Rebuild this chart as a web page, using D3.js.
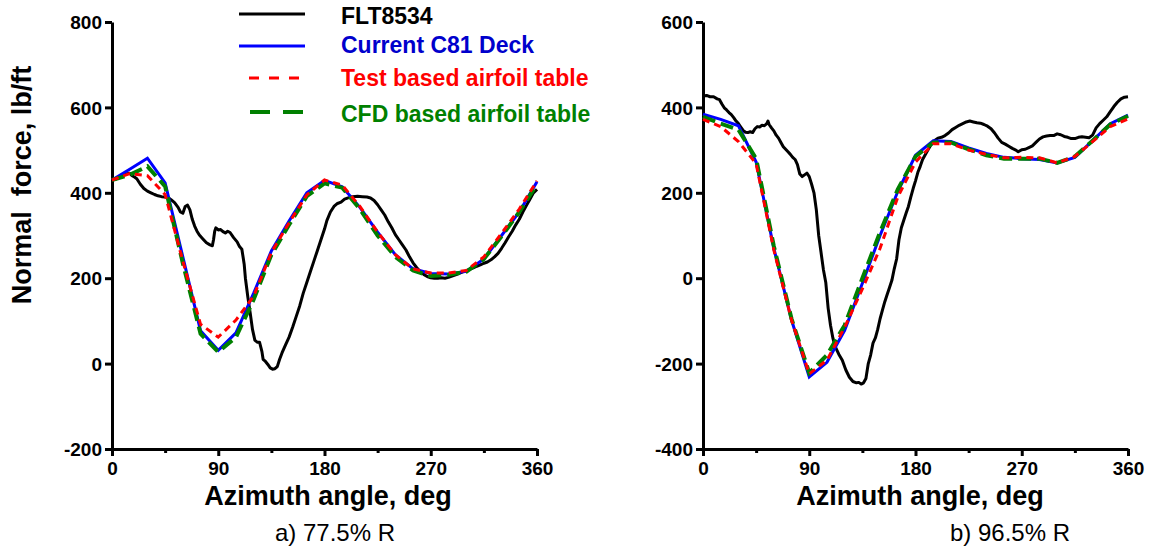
<!DOCTYPE html>
<html>
<head>
<meta charset="utf-8">
<script src="https://cdn.jsdelivr.net/npm/d3@7"></script>
<style>
  body { margin: 0; background: #fff; }
  text { font-family: "Liberation Sans", Arial, sans-serif; }
</style>
</head>
<body>
<svg id="c81-normal-force" width="1152" height="547"></svg>
<script>
// Azimuth stations of the C81 predictions (deg)
const predAz = [0,15,30,45,60,75,90,105,120,135,150,165,180,195,210,225,240,255,270,285,300,315,330,345,360];

// a) 77.5% R
const c81A  = [430,455,481,423,250,77,31,72,165,264,334,400,429,414,366,308,255,222,211,210,216,245,300,355,426];
const testA = [430,445,440,396,240,92,62,102,158,260,330,395,430,418,368,308,255,222,212,212,218,250,305,362,428];
const cfdA  = [430,442,462,415,235,70,27,62,150,255,325,392,422,412,362,300,250,218,205,208,215,245,298,355,420];
const fltA = [[0,430],[3,432],[6,436],[9,440],[12,444],[15,446],[17,440],[19,437],[21,433],[24,420],[27,410],[30,404],
  [33,400],[36,396],[39,393],[42,391],[45,390],[48,388],[50,384],[53,377],[56,366],[58,355],[60,352],[62,368],[64,371],
  [66,360],[68,338],[70,322],[72,310],[74,301],[77,292],[80,283],[83,278],[85,276],[86,290],[87,310],[88,318],[90,313],
  [92,314],[94,309],[96,306],[98,310],[100,307],[103,295],[106,285],[108,274],[110,268],[111,250],[112,232],[113,200],
  [115,157],[117,120],[119,80],[121,55],[123,50],[125,50],[127,28],[128,10],[130,5],[132,-2],[134,-10],[136,-13],
  [138,-12],[140,-7],[142,10],[144,25],[147,44],[150,62],[153,85],[156,110],[159,135],[162,165],[165,190],[168,215],
  [171,240],[174,265],[177,290],[180,315],[182,335],[185,355],[188,368],[191,375],[194,378],[197,385],[200,388],
  [204,391],[208,392],[212,391],[216,390],[219,388],[222,382],[225,372],[228,360],[231,348],[234,332],[237,318],
  [240,302],[243,290],[246,278],[249,266],[252,250],[255,236],[258,225],[261,215],[264,209],[267,204],[270,201],
  [273,200],[276,200],[279,201],[282,200],[285,202],[288,205],[291,208],[294,211],[297,215],[300,217],[303,221],
  [306,224],[309,228],[312,231],[315,235],[318,238],[321,243],[324,250],[327,258],[330,270],[333,283],[336,297],
  [339,310],[342,325],[345,338],[348,355],[351,370],[354,385],[357,400],[360,408]];

// b) 96.5% R
const c81B  = [384,372,357,272,70,-98,-231,-197,-122,-12,100,203,288,322,320,305,292,283,280,278,270,283,322,362,382];
const testB = [372,355,320,268,66,-98,-224,-192,-115,-25,70,190,272,315,315,300,290,282,283,282,270,285,320,355,373];
const cfdB  = [378,362,348,280,75,-95,-222,-180,-110,0,108,208,285,318,318,302,288,280,280,280,270,285,322,360,380];
const fltB = [[0,427],[3,428],[6,425],[9,425],[12,420],[14,418],[16,408],[18,399],[20,394],[22,388],[24,383],[26,376],
  [28,368],[30,362],[32,354],[34,346],[36,342],[38,341],[40,343],[42,341],[44,350],[46,355],[48,354],[50,358],[52,357],
  [54,362],[55,368],[56,360],[58,352],[60,345],[62,335],[64,328],[66,318],[68,308],[70,302],[72,296],[74,290],[76,283],
  [78,278],[80,266],[82,244],[84,238],[86,242],[88,246],[90,238],[92,220],[94,200],[96,160],[98,100],[100,60],[102,20],
  [104,-10],[106,-70],[108,-110],[110,-140],[112,-160],[115,-178],[118,-192],[121,-215],[124,-232],[127,-242],
  [130,-245],[132,-244],[134,-248],[136,-245],[138,-235],[140,-200],[142,-180],[144,-152],[146,-140],[148,-120],
  [150,-95],[152,-75],[154,-55],[156,-38],[158,-22],[160,-5],[162,22],[164,45],[166,90],[168,118],[170,135],[172,152],
  [174,168],[176,190],[178,210],[180,228],[182,248],[184,262],[186,278],[188,288],[190,298],[193,312],[196,322],
  [199,328],[202,330],[205,334],[208,340],[211,348],[214,353],[217,358],[220,362],[223,366],[226,368],[229,366],
  [232,364],[235,363],[238,360],[241,356],[244,350],[247,340],[250,328],[253,318],[256,314],[259,309],[262,304],
  [265,300],[267,296],[270,301],[273,302],[276,306],[279,310],[282,318],[285,326],[288,331],[291,333],[294,334],
  [297,334],[300,338],[303,336],[306,332],[309,330],[312,327],[315,327],[318,330],[321,331],[324,330],[327,329],
  [330,335],[333,352],[336,362],[339,370],[342,378],[345,390],[348,402],[351,412],[354,420],[357,424],[360,425]];

// Axis ticks
const azTicks = [0,90,180,270,360];
const azMinor = [45,135,225,315];
const yTicksA = [-200,0,200,400,600,800];
const yTicksB = [-400,-200,0,200,400,600];

const seriesNames = ["FLT8534","Current C81 Deck","Test based airfoil table","CFD based airfoil table"];
const captions = ["a) 77.5% R","b) 96.5% R"];

const svg = d3.select("#c81-normal-force");
svg.append("rect").attr("width",1152).attr("height",547).attr("fill","white");

function drawPanel(p) {
  let x = d3.scaleLinear().domain([0,360]).range([p.left, p.left+425]);
  let y = d3.scaleLinear().domain(p.yDomain).range([449, 22]);
  let g = svg.append("g");

  // axes (plain hyphen for negatives, like the original)
  let xAxis = g.append("g").attr("transform","translate(0,449)")
    .call(d3.axisBottom(x).tickValues(azTicks).tickFormat(d => String(d)).tickSize(7).tickPadding(3).tickSizeOuter(0));
  g.append("g").attr("transform","translate(0,449)")
    .call(d3.axisBottom(x).tickValues(azMinor).tickSize(4).tickFormat("").tickSizeOuter(0))
    .select(".domain").remove();
  let yAxis = g.append("g").attr("transform",`translate(${p.left},0)`)
    .call(d3.axisLeft(y).tickValues(p.yTicks).tickFormat(d => String(d)).tickSize(7).tickPadding(3).tickSizeOuter(0));
  g.selectAll(".domain, .tick line").attr("stroke","black").attr("stroke-width",3);
  g.selectAll(".tick text").attr("fill","black").style("font-size","19px").style("font-weight","bold")
    .style("font-family","'Liberation Sans', Arial, sans-serif");
  xAxis.selectAll(".tick text").attr("dy","0.82em");
  yAxis.selectAll(".tick text").attr("dy","0.35em");

  let line = d3.line().x(d => x(d[0])).y(d => y(d[1]));
  let pred = vals => predAz.map((a,i) => [a, vals[i]]);

  g.append("path").datum(p.flt).attr("d", line)
    .attr("fill","none").attr("stroke","black").attr("stroke-width",3).attr("stroke-linejoin","round");
  g.append("path").datum(pred(p.c81)).attr("d", line)
    .attr("fill","none").attr("stroke","#0000ff").attr("stroke-width",3);
  g.append("path").datum(pred(p.cfd)).attr("d", line)
    .attr("fill","none").attr("stroke","#008000").attr("stroke-width",4).attr("stroke-dasharray","13,6");
  g.append("path").datum(pred(p.test)).attr("d", line)
    .attr("fill","none").attr("stroke","#ff0000").attr("stroke-width",3).attr("stroke-dasharray","7,5");

  // labels
  g.append("text").attr("x", p.titleX).attr("y", 505).attr("text-anchor","middle")
    .style("font-size","27px").style("font-weight","bold").text("Azimuth angle, deg");
  g.append("text").attr("x", p.capX).attr("y", 541).attr("text-anchor","middle")
    .style("font-size","24px").text(p.caption);
}

drawPanel({left:112, yDomain:[-200,800], yTicks:yTicksA, flt:fltA, c81:c81A, test:testA, cfd:cfdA,
  titleX:328, capX:335, caption:captions[0]});
drawPanel({left:703, yDomain:[-400,600], yTicks:yTicksB, flt:fltB, c81:c81B, test:testB, cfd:cfdB,
  titleX:920, capX:1010, caption:captions[1]});

// y title
svg.append("text").attr("transform","translate(31,185) rotate(-90)").attr("text-anchor","middle")
  .style("font-size","27px").style("font-weight","bold").style("white-space","pre")
  .text("Normal  force, lb/ft");

// Legend
const legend = [
  {name: seriesNames[0], line:"black",   text:"black",   w:3, dash:null,    x0:239, y:14,  ty:24},
  {name: seriesNames[1], line:"#0000ff", text:"#0000cc", w:3, dash:null,    x0:239, y:46,  ty:53},
  {name: seriesNames[2], line:"#ff0000", text:"#ff0000", w:3, dash:"10,10", x0:249, y:78,  ty:86},
  {name: seriesNames[3], line:"#008000", text:"#008000", w:4, dash:"20,13", x0:250, y:112, ty:122}
];
let lg = svg.append("g");
lg.selectAll("line").data(legend).join("line")
  .attr("x1", d => d.x0).attr("x2", 305).attr("y1", d => d.y).attr("y2", d => d.y)
  .attr("stroke", d => d.line).attr("stroke-width", d => d.w).attr("stroke-dasharray", d => d.dash);
lg.selectAll("text").data(legend).join("text")
  .attr("x", 341).attr("y", d => d.ty).attr("fill", d => d.text)
  .style("font-size","23px").style("font-weight","bold").text(d => d.name);
</script>
</body>
</html>
